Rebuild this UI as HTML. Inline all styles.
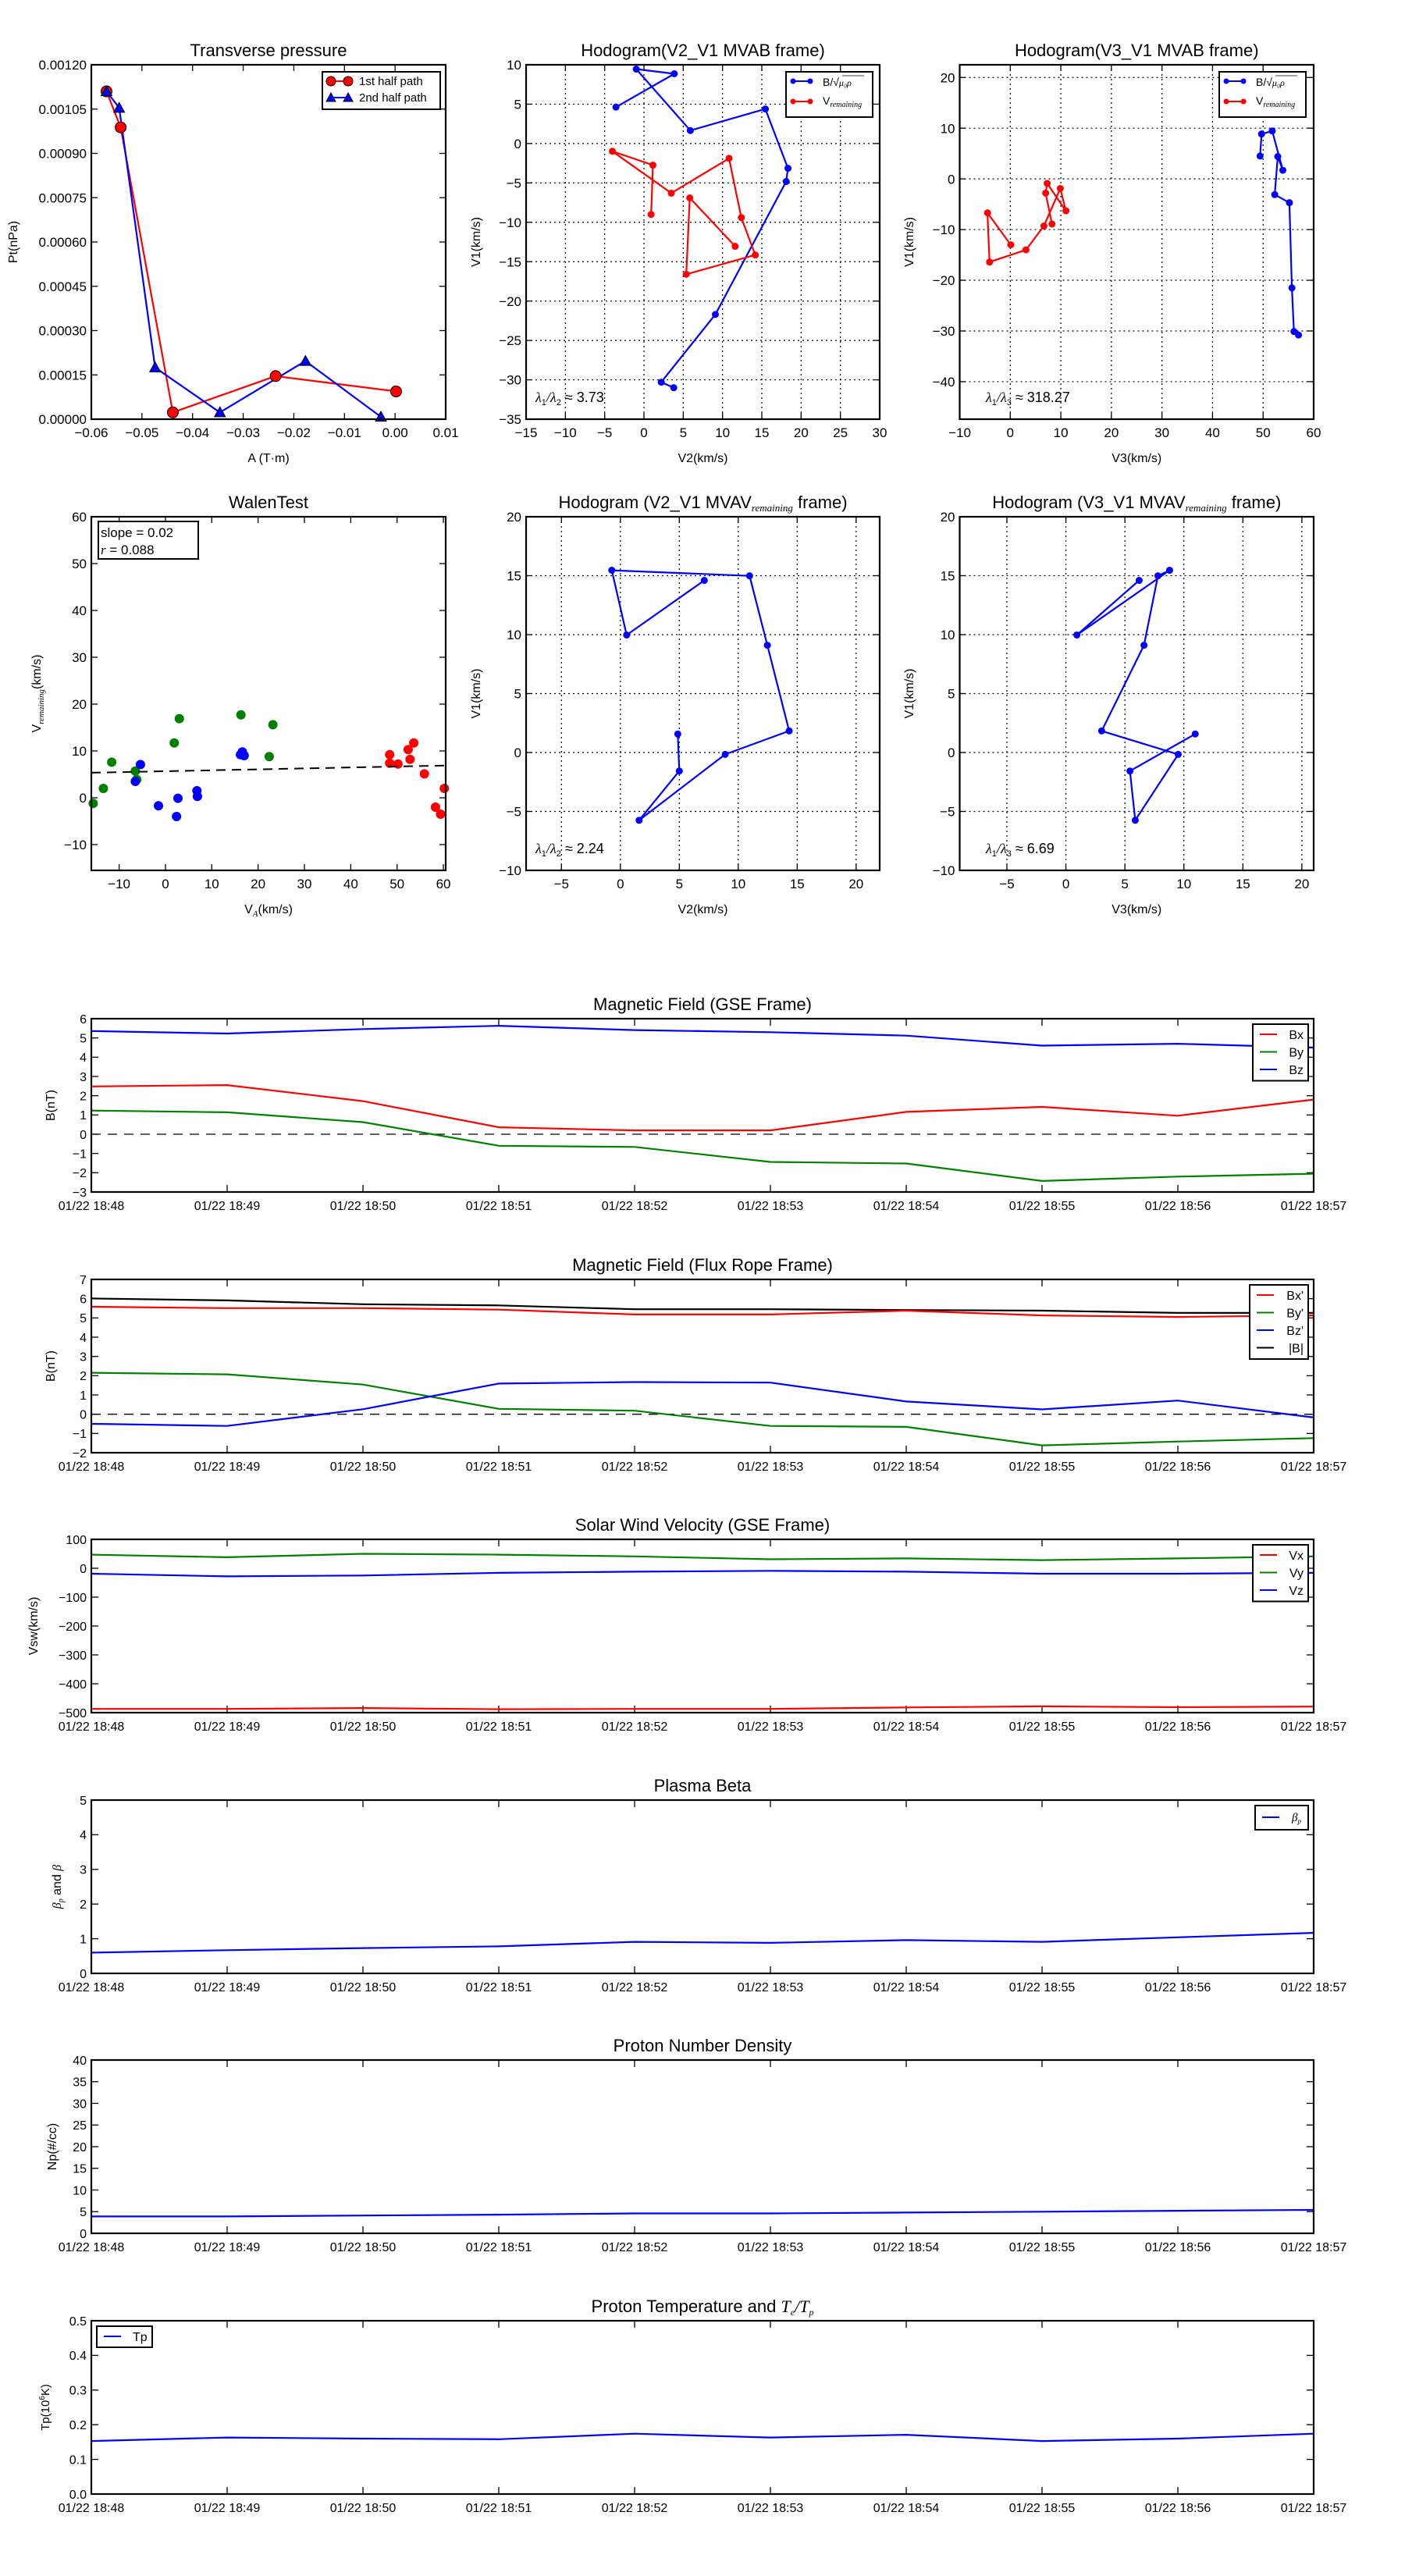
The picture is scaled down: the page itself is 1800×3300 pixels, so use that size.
<!DOCTYPE html>
<html>
<head>
<meta charset="utf-8">
<style>
html,body{margin:0;padding:0;background:#fff;}
svg{display:block;font-family:"Liberation Sans",sans-serif;}
</style>
</head>
<body>
<svg id="fig" xmlns="http://www.w3.org/2000/svg" width="1800" height="3300" viewBox="0 0 1800 3300">
<rect x="0" y="0" width="1800" height="3300" fill="#fff"/>
</svg>
<script>
// ---------- data ----------
// Transverse pressure
const tp1A = [-0.057, -0.0542, -0.0439, -0.0236, 0.0002];
const tp1P = [0.00111, 0.000988, 0.000023, 0.000146, 0.000094];
const tp2A = [-0.057, -0.0545, -0.0474, -0.0346, -0.0177, -0.0028];
const tp2P = [0.00111, 0.001054, 0.000175, 0.000023, 0.000197, 0.000008];
// Hodogram V2_V1 MVAB
const h1BlueV2 = [-3.56, 3.86, -0.98, 5.9, 15.45, 18.33, 18.1, 9.09, 2.2, 3.79];
const h1BlueV1 = [4.63, 8.86, 9.45, 1.65, 4.39, -3.14, -4.82, -21.7, -30.3, -31.0];
const h1RedV2 = [0.91, 1.14, -4.02, 3.48, 10.83, 12.39, 14.17, 5.38, 5.83, 11.6];
const h1RedV1 = [-9.0, -2.74, -0.98, -6.3, -1.88, -9.4, -14.15, -16.6, -6.9, -13.05];
// Hodogram V3_V1 MVAB
const h2BlueV3 = [49.4, 49.7, 51.8, 53.9, 52.9, 52.3, 55.2, 55.7, 56.1, 57.0];
const h2BlueV1 = [4.5, 8.85, 9.45, 1.7, 4.4, -3.1, -4.7, -21.5, -30.1, -30.8];
const h2RedV3 = [8.25, 7.0, 7.3, 11.0, 9.9, 6.66, 3.1, -4.1, -4.5, 0.1];
const h2RedV1 = [-8.9, -2.8, -0.9, -6.3, -1.9, -9.3, -14.0, -16.4, -6.7, -13.0];
// Walen test
const wGreenX = [-15.6, -13.4, -11.6, -6.5, -6.2, 1.9, 3.0, 16.3, 22.4, 23.2];
const wGreenY = [-1.2, 2.0, 7.6, 5.7, 3.9, 11.7, 16.9, 17.7, 8.8, 15.6];
const wBlueX = [-6.5, -5.4, -1.5, 2.4, 2.7, 6.8, 6.9, 16.2, 16.6, 17.0];
const wBlueY = [3.5, 7.1, -1.7, -4.0, -0.1, 1.5, 0.3, 9.2, 9.8, 9.0];
const wRedX = [48.4, 48.4, 50.2, 52.4, 52.8, 53.6, 55.9, 58.3, 59.4, 60.2];
const wRedY = [9.2, 7.4, 7.2, 10.3, 8.2, 11.7, 5.1, -2.0, -3.5, 2.0];
const wSlope = 0.02;
const wIntercept = 5.67;
// Hodograms MVAV
const h3V2 = [7.12, 0.53, -0.73, 10.96, 12.47, 14.32, 8.89, 1.59, 5.0, 4.87];
const h3V1 = [14.6, 9.97, 15.46, 14.99, 9.1, 1.83, -0.16, -5.75, -1.57, 1.57];
const h4V3 = [6.21, 0.93, 8.79, 7.8, 6.62, 3.03, 9.52, 5.88, 5.43, 10.96];
const h4V1 = [14.6, 9.97, 15.46, 14.99, 9.1, 1.83, -0.16, -5.75, -1.57, 1.57];
// Time series
const timeLabels = ["01/22 18:48","01/22 18:49","01/22 18:50","01/22 18:51","01/22 18:52","01/22 18:53","01/22 18:54","01/22 18:55","01/22 18:56","01/22 18:57"];
const gseBx = [2.48, 2.55, 1.72, 0.36, 0.2, 0.2, 1.16, 1.42, 0.96, 1.8];
const gseBy = [1.23, 1.14, 0.63, -0.6, -0.66, -1.44, -1.52, -2.43, -2.2, -2.05];
const gseBz = [5.36, 5.23, 5.46, 5.63, 5.41, 5.3, 5.12, 4.6, 4.7, 4.5];
const frBx = [5.58, 5.51, 5.51, 5.43, 5.18, 5.18, 5.38, 5.13, 5.05, 5.13];
const frBy = [2.15, 2.07, 1.54, 0.28, 0.18, -0.61, -0.66, -1.62, -1.42, -1.24];
const frBz = [-0.5, -0.61, 0.26, 1.59, 1.67, 1.64, 0.66, 0.25, 0.71, -0.17];
const frBt = [6.01, 5.91, 5.71, 5.65, 5.45, 5.45, 5.41, 5.38, 5.26, 5.26];
const swVx = [-487, -487, -484, -488, -487, -487, -482, -478, -481, -479];
const swVy = [47, 38, 50, 47, 41, 31, 34, 28, 34, 41];
const swVz = [-19, -28, -25, -16, -12, -9, -12, -19, -19, -16];
const betaP = [0.6, 0.67, 0.73, 0.78, 0.91, 0.88, 0.96, 0.91, 1.04, 1.17];
const densNp = [3.9, 3.9, 4.1, 4.3, 4.6, 4.6, 4.8, 5.0, 5.2, 5.4];
const tempTp = [0.153, 0.163, 0.16, 0.158, 0.174, 0.163, 0.171, 0.153, 0.16, 0.174];

// ---------- helpers ----------
const NS = "http://www.w3.org/2000/svg";
const fig = document.getElementById("fig");
function mk(tag, attrs, parent) {
  const e = document.createElementNS(NS, tag);
  for (const k in attrs) e.setAttribute(k, attrs[k]);
  (parent || fig).appendChild(e);
  return e;
}
function txt(parent, s, x, y, size, anchor, extra) {
  const t = mk("text", Object.assign({x: x, y: y, "font-size": size, "text-anchor": anchor || "start", fill: "#000"}, extra || {}), parent);
  t.textContent = s;
  return t;
}
function fmtNum(v, dec) {
  const s = Math.abs(v).toFixed(dec);
  return (v < -1e-12 ? "\u2212" : "") + s;
}
function makeAxes(name, box, xlim, ylim) {
  const g = mk("g", {});
  
  
  const ax = {
    g: g, box: box,
    x: v => box.l + (v - xlim[0]) / (xlim[1] - xlim[0]) * (box.r - box.l),
    y: v => box.b - (v - ylim[0]) / (ylim[1] - ylim[0]) * (box.b - box.t)
  };
  return ax;
}
function frame(ax) {
  const b = ax.box;
  const r = mk("rect", {x: b.l, y: b.t, width: b.r - b.l, height: b.b - b.t, fill: "none", stroke: "#000", "stroke-width": 2.2}, ax.g);
  
  
}
function xTicks(ax, vals, labels, size, grid, tl) {
  const b = ax.box; tl = tl || 8;
  const g = mk("g", {}, ax.g);
  
  
  vals.forEach((v, i) => {
    const X = ax.x(v);
    if (grid) mk("line", {x1: X, y1: b.t, x2: X, y2: b.b, stroke: "#000", "stroke-width": 1.2, "stroke-dasharray": "2,4"}, g);
    mk("line", {x1: X, y1: b.b, x2: X, y2: b.b - tl, stroke: "#000", "stroke-width": 1.3}, g);
    mk("line", {x1: X, y1: b.t, x2: X, y2: b.t + tl, stroke: "#000", "stroke-width": 1.3}, g);
    const t = txt(g, labels[i], X, b.b + 23, size, "middle");
    
    
  });
}
function yTicks(ax, vals, labels, size, grid, tl) {
  const b = ax.box; tl = tl || 8;
  const g = mk("g", {}, ax.g);
  
  
  vals.forEach((v, i) => {
    const Y = ax.y(v);
    if (grid) mk("line", {x1: b.l, y1: Y, x2: b.r, y2: Y, stroke: "#000", "stroke-width": 1.2, "stroke-dasharray": "2,4"}, g);
    mk("line", {x1: b.l, y1: Y, x2: b.l + tl, y2: Y, stroke: "#000", "stroke-width": 1.3}, g);
    mk("line", {x1: b.r, y1: Y, x2: b.r - tl, y2: Y, stroke: "#000", "stroke-width": 1.3}, g);
    const t = txt(g, labels[i], b.l - 6, Y + size * 0.36, size, "end");
    
    
  });
}
function series(ax, xs, ys, color, width, name, dash) {
  const pts = xs.map((v, i) => ax.x(v).toFixed(1) + "," + ax.y(ys[i]).toFixed(1)).join(" ");
  const a = {points: pts, fill: "none", stroke: color, "stroke-width": width, "stroke-linejoin": "round"};
  if (dash) a["stroke-dasharray"] = dash;
  const p = mk("polyline", a, ax.g);
  
  
  return p;
}
function dots(ax, xs, ys, color, r, name, stroke) {
  xs.forEach((v, i) => {
    const c = mk("circle", {cx: ax.x(v), cy: ax.y(ys[i]), r: r, fill: color, stroke: stroke || "none", "stroke-width": 1}, ax.g);
    
    
  });
}
function tris(ax, xs, ys, color, s, name) {
  xs.forEach((v, i) => {
    const X = ax.x(v), Y = ax.y(ys[i]);
    const p = mk("polygon", {points: `${X},${Y - s} ${X - s},${Y + s * 0.8} ${X + s},${Y + s * 0.8}`, fill: color, stroke: "#000", "stroke-width": 1}, ax.g);
    
    
  });
}
function title(ax, s, size) {
  const b = ax.box;
  const t = txt(ax.g, s, (b.l + b.r) / 2, b.t - 11, size || 22, "middle");
  
  
  return t;
}
function xLabel(ax, s, size) {
  const b = ax.box;
  const t = txt(ax.g, s, (b.l + b.r) / 2, b.b + 55, size || 16, "middle");
  
  
  return t;
}
function yLabel(ax, s, x, size) {
  const b = ax.box, cy = (b.t + b.b) / 2;
  const t = txt(ax.g, s, x, cy, size || 16, "middle", {transform: `rotate(-90 ${x} ${cy})`});
  
  
  return t;
}
function sub(t, s, size, dy, italic) {
  const ts = mk("tspan", {"font-size": size, dy: dy}, t);
  if (italic) { ts.setAttribute("font-style", "italic"); ts.setAttribute("font-family", "Liberation Serif, serif"); }
  ts.textContent = s;
  return ts;
}
function range(a, b, s) { const r = []; for (let v = a; v <= b + 1e-9; v += s) r.push(+v.toFixed(6)); return r; }

// ---------- Plot 1: transverse pressure ----------
(function () {
  const ax = makeAxes("transverse-pressure-chart", {l: 117, r: 571, t: 83, b: 537}, [-0.06, 0.01], [0, 0.0012]);
  const xv = range(-0.06, 0.01, 0.01), yv = range(0, 0.0012, 0.00015);
  xTicks(ax, xv, xv.map(v => fmtNum(v, 2)), 17);
  yTicks(ax, yv, yv.map(v => fmtNum(v, 5)), 17);
  series(ax, tp1A, tp1P, "#f00", 2.2, "first-half-path-line");
  series(ax, tp2A, tp2P, "#00f", 2.2, "second-half-path-line");
  dots(ax, tp1A, tp1P, "#f00", 7, "first-half-point", "#000");
  tris(ax, tp2A, tp2P, "#00f", 7, "second-half-point");
  frame(ax);
  title(ax, "Transverse pressure");
  xLabel(ax, "A (T\u00b7m)");
  yLabel(ax, "Pt(nPa)", 22);
  const lg = mk("g", {}, ax.g);
  
  
  mk("rect", {x: 413, y: 92, width: 151, height: 48, fill: "#fff", stroke: "#000", "stroke-width": 2}, lg);
  mk("line", {x1: 424, y1: 104, x2: 446, y2: 104, stroke: "#f00", "stroke-width": 2}, lg);
  mk("circle", {cx: 424, cy: 104, r: 6, fill: "#f00", stroke: "#000"}, lg);
  mk("circle", {cx: 446, cy: 104, r: 6, fill: "#f00", stroke: "#000"}, lg);
  mk("line", {x1: 424, y1: 125, x2: 446, y2: 125, stroke: "#00f", "stroke-width": 2}, lg);
  mk("polygon", {points: "424,119 418,130 430,130", fill: "#00f", stroke: "#000"}, lg);
  mk("polygon", {points: "446,119 440,130 452,130", fill: "#00f", stroke: "#000"}, lg);
  const e1 = txt(lg, "1st half path", 460, 109, 15);
  
  
  const e2 = txt(lg, "2nd half path", 460, 130, 15);
  
  
})();

function hodoLegend(ax, x, y, twoSeries) {
  const lg = mk("g", {}, ax.g);
  
  
  mk("rect", {x: x, y: y, width: 111, height: 58, fill: "#fff", stroke: "#000", "stroke-width": 2}, lg);
  mk("line", {x1: x + 9, y1: y + 12, x2: x + 31, y2: y + 12, stroke: "#00f", "stroke-width": 2}, lg);
  mk("circle", {cx: x + 9, cy: y + 12, r: 3.5, fill: "#00f"}, lg);
  mk("circle", {cx: x + 31, cy: y + 12, r: 3.5, fill: "#00f"}, lg);
  mk("line", {x1: x + 9, y1: y + 38, x2: x + 31, y2: y + 38, stroke: "#f00", "stroke-width": 2}, lg);
  mk("circle", {cx: x + 9, cy: y + 38, r: 3.5, fill: "#f00"}, lg);
  mk("circle", {cx: x + 31, cy: y + 38, r: 3.5, fill: "#f00"}, lg);
  const t1 = txt(lg, "B/\u221a", x + 47, y + 18, 14);
  sub(t1, "\u03bc\u2080\u03c1", 12, 0, true);
  mk("line", {x1: x + 72, y1: y + 5, x2: x + 100, y2: y + 5, stroke: "#000", "stroke-width": 0.8}, lg);
  
  
  const t2 = txt(lg, "V", x + 47, y + 42, 14);
  sub(t2, "remaining", 10, 3, true);
  
  
}
function lambdaText(ax, x, y, a, b, val) {
  const t = txt(ax.g, "", x, y, 18);
  sub(t, "\u03bb", 18, 0, true);
  sub(t, a, 11, 4, false);
  sub(t, "/", 18, -4, true);
  sub(t, "\u03bb", 18, 0, true);
  sub(t, b, 11, 4, false);
  sub(t, " \u2248 " + val, 18, -4, false);
  
  
}

// ---------- Plot 2: hodogram V2_V1 MVAB ----------
(function () {
  const ax = makeAxes("hodogram-v2-v1-mvab", {l: 674, r: 1127, t: 83, b: 537}, [-15, 30], [-35, 10]);
  const xv = range(-15, 30, 5), yv = range(-35, 10, 5);
  xTicks(ax, xv, xv.map(v => fmtNum(v, 0)), 17, true);
  yTicks(ax, yv, yv.map(v => fmtNum(v, 0)), 17, true);
  series(ax, h1BlueV2, h1BlueV1, "#00f", 2.2, "alfven-velocity-line");
  dots(ax, h1BlueV2, h1BlueV1, "#00f", 4.5, "alfven-velocity-point");
  series(ax, h1RedV2, h1RedV1, "#f00", 2.2, "remaining-velocity-line");
  dots(ax, h1RedV2, h1RedV1, "#f00", 4.5, "remaining-velocity-point");
  frame(ax);
  title(ax, "Hodogram(V2_V1 MVAB frame)");
  xLabel(ax, "V2(km/s)");
  yLabel(ax, "V1(km/s)", 615);
  hodoLegend(ax, 1007, 92);
  lambdaText(ax, 686, 515, "1", "2", "3.73");
})();

// ---------- Plot 3: hodogram V3_V1 MVAB ----------
(function () {
  const ax = makeAxes("hodogram-v3-v1-mvab", {l: 1229.5, r: 1683, t: 83, b: 537}, [-10, 60], [-47.4, 22.5]);
  const xv = range(-10, 60, 10), yv = range(-40, 20, 10);
  xTicks(ax, xv, xv.map(v => fmtNum(v, 0)), 17, true);
  yTicks(ax, yv, yv.map(v => fmtNum(v, 0)), 17, true);
  series(ax, h2BlueV3, h2BlueV1, "#00f", 2.2, "alfven-velocity-line");
  dots(ax, h2BlueV3, h2BlueV1, "#00f", 4.5, "alfven-velocity-point");
  series(ax, h2RedV3, h2RedV1, "#f00", 2.2, "remaining-velocity-line");
  dots(ax, h2RedV3, h2RedV1, "#f00", 4.5, "remaining-velocity-point");
  frame(ax);
  title(ax, "Hodogram(V3_V1 MVAB frame)");
  xLabel(ax, "V3(km/s)");
  yLabel(ax, "V1(km/s)", 1170);
  hodoLegend(ax, 1562, 92);
  lambdaText(ax, 1263, 515, "1", "3", "318.27");
})();

// ---------- Plot 4: Walen test ----------
(function () {
  const xl = [-16, 60.5];
  const ax = makeAxes("walen-test-chart", {l: 117, r: 571, t: 662, b: 1115}, xl, [-15.5, 60]);
  const xv = range(-10, 60, 10), yv = range(-10, 60, 10);
  xTicks(ax, xv, xv.map(v => fmtNum(v, 0)), 17);
  yTicks(ax, yv, yv.map(v => fmtNum(v, 0)), 17);
  dots(ax, wGreenX, wGreenY, "#008000", 6, "walen-point-green");
  dots(ax, wBlueX, wBlueY, "#00f", 6, "walen-point-blue");
  dots(ax, wRedX, wRedY, "#f00", 6, "walen-point-red");
  series(ax, xl, xl.map(v => wSlope * v + wIntercept), "#000", 2, "fit-line", "12,8");
  frame(ax);
  title(ax, "WalenTest");
  const xt = xLabel(ax, "V");
  sub(xt, "A", 11, 4, true);
  sub(xt, "(km/s)", 16, -4, false);
  const yt = yLabel(ax, "V", 52);
  sub(yt, "remaining", 11, 4, true);
  sub(yt, "(km/s)", 16, -4, false);
  const bx = mk("g", {}, ax.g);
  
  
  mk("rect", {x: 126, y: 668, width: 128, height: 48, fill: "#fff", stroke: "#000", "stroke-width": 2}, bx);
  txt(bx, "slope = " + wSlope.toFixed(2), 129, 688, 17);
  const rt = txt(bx, "", 129, 710, 17);
  sub(rt, "r", 17, 0, true);
  sub(rt, " = 0.088", 17, 0, false);
})();

// ---------- Plot 5/6: MVAV hodograms ----------
(function () {
  const ax = makeAxes("hodogram-v2-v1-mvav", {l: 674, r: 1127, t: 662, b: 1115}, [-8, 22], [-10, 20]);
  const xv = range(-5, 20, 5), yv = range(-10, 20, 5);
  xTicks(ax, xv, xv.map(v => fmtNum(v, 0)), 17, true);
  yTicks(ax, yv, yv.map(v => fmtNum(v, 0)), 17, true);
  series(ax, h3V2, h3V1, "#00f", 2.2, "velocity-line");
  dots(ax, h3V2, h3V1, "#00f", 4.5, "velocity-point");
  frame(ax);
  const t = title(ax, "Hodogram (V2_V1 MVAV");
  sub(t, "remaining", 13, 4, true);
  sub(t, " frame)", 22, -4, false);
  xLabel(ax, "V2(km/s)");
  yLabel(ax, "V1(km/s)", 615);
  lambdaText(ax, 686, 1093, "1", "2", "2.24");
})();
(function () {
  const ax = makeAxes("hodogram-v3-v1-mvav", {l: 1229.5, r: 1683, t: 662, b: 1115}, [-9, 21], [-10, 20]);
  const xv = range(-5, 20, 5), yv = range(-10, 20, 5);
  xTicks(ax, xv, xv.map(v => fmtNum(v, 0)), 17, true);
  yTicks(ax, yv, yv.map(v => fmtNum(v, 0)), 17, true);
  series(ax, h4V3, h4V1, "#00f", 2.2, "velocity-line");
  dots(ax, h4V3, h4V1, "#00f", 4.5, "velocity-point");
  frame(ax);
  const t = title(ax, "Hodogram (V3_V1 MVAV");
  sub(t, "remaining", 13, 4, true);
  sub(t, " frame)", 22, -4, false);
  xLabel(ax, "V3(km/s)");
  yLabel(ax, "V1(km/s)", 1170);
  lambdaText(ax, 1263, 1093, "1", "3", "6.69");
})();

// ---------- time series panels ----------
const tIdx = timeLabels.map((_, i) => i);
function timePanel(name, top, ylim, yv, ylabFmt, ttl, ylabX) {
  const ax = makeAxes(name, {l: 117, r: 1683, t: top, b: top + 222}, [0, 9], ylim);
  xTicks(ax, tIdx, timeLabels, 16, false, 9);
  yTicks(ax, yv, yv.map(ylabFmt), 16, false, 9);
  return ax;
}
function timeLegend(ax, x, y, w, entries) {
  const lg = mk("g", {}, ax.g);
  
  
  mk("rect", {x: x, y: y, width: w, height: entries.length * 22.5 + 5, fill: "#fff", stroke: "#000", "stroke-width": 2}, lg);
  entries.forEach((e, i) => {
    const yy = y + 13 + i * 22.5;
    mk("line", {x1: x + 9, y1: yy, x2: x + 31, y2: yy, stroke: e[1], "stroke-width": 2}, lg);
    const t = txt(lg, e[0], x + w - 6, yy + 6, 16, "end");
    
    
  });
  return lg;
}
function zeroLine(ax) {
  const l = mk("line", {x1: ax.box.l, y1: ax.y(0), x2: ax.box.r, y2: ax.y(0), stroke: "#000", "stroke-width": 1.3, "stroke-dasharray": "12,9"}, ax.g);
  
  
}

(function () {
  const ax = timePanel("magnetic-field-gse-chart", 1305, [-3, 6], range(-3, 6, 1), v => fmtNum(v, 0));
  zeroLine(ax);
  series(ax, tIdx, gseBx, "#f00", 2.2, "bx-line");
  series(ax, tIdx, gseBy, "#008000", 2.2, "by-line");
  series(ax, tIdx, gseBz, "#00f", 2.2, "bz-line");
  frame(ax);
  title(ax, "Magnetic Field (GSE Frame)");
  yLabel(ax, "B(nT)", 70);
  timeLegend(ax, 1605, 1312, 71, [["Bx", "#f00"], ["By", "#008000"], ["Bz", "#00f"]]);
})();
(function () {
  const ax = timePanel("magnetic-field-flux-rope-chart", 1639, [-2, 7], range(-2, 7, 1), v => fmtNum(v, 0));
  zeroLine(ax);
  series(ax, tIdx, frBt, "#000", 2.2, "b-magnitude-line");
  series(ax, tIdx, frBx, "#f00", 2.2, "bx-prime-line");
  series(ax, tIdx, frBy, "#008000", 2.2, "by-prime-line");
  series(ax, tIdx, frBz, "#00f", 2.2, "bz-prime-line");
  frame(ax);
  title(ax, "Magnetic Field (Flux Rope Frame)");
  yLabel(ax, "B(nT)", 70);
  timeLegend(ax, 1601, 1646, 75, [["Bx'", "#f00"], ["By'", "#008000"], ["Bz'", "#00f"], ["|B|", "#000"]]);
})();
(function () {
  const ax = timePanel("solar-wind-velocity-chart", 1972, [-500, 100], range(-500, 100, 100), v => fmtNum(v, 0));
  series(ax, tIdx, swVx, "#f00", 2.2, "vx-line");
  series(ax, tIdx, swVy, "#008000", 2.2, "vy-line");
  series(ax, tIdx, swVz, "#00f", 2.2, "vz-line");
  frame(ax);
  title(ax, "Solar Wind Velocity (GSE Frame)");
  yLabel(ax, "Vsw(km/s)", 48);
  timeLegend(ax, 1605, 1979, 71, [["Vx", "#f00"], ["Vy", "#008000"], ["Vz", "#00f"]]);
})();
(function () {
  const ax = timePanel("plasma-beta-chart", 2306, [0, 5], range(0, 5, 1), v => fmtNum(v, 0));
  series(ax, tIdx, betaP, "#00f", 2.2, "beta-p-line");
  frame(ax);
  title(ax, "Plasma Beta");
  const yt = yLabel(ax, "", 78);
  sub(yt, "\u03b2", 16, 0, true);
  sub(yt, "p", 10, 3, true);
  sub(yt, " and ", 16, -3, false);
  sub(yt, "\u03b2", 16, 0, true);
  const lg = mk("g", {}, ax.g);
  
  
  mk("rect", {x: 1608, y: 2313, width: 68, height: 31, fill: "#fff", stroke: "#000", "stroke-width": 2}, lg);
  mk("line", {x1: 1617, y1: 2328, x2: 1639, y2: 2328, stroke: "#00f", "stroke-width": 2}, lg);
  const t = txt(lg, "", 1655, 2333, 16);
  sub(t, "\u03b2", 15, 0, true);
  sub(t, "p", 9, 3, true);
  
  
})();
(function () {
  const ax = timePanel("proton-density-chart", 2639, [0, 40], range(0, 40, 5), v => fmtNum(v, 0));
  series(ax, tIdx, densNp, "#00f", 2.2, "np-line");
  frame(ax);
  title(ax, "Proton Number Density");
  yLabel(ax, "Np(#/cc)", 72);
})();
(function () {
  const ax = timePanel("proton-temperature-chart", 2973, [0, 0.5], range(0, 0.5, 0.1), v => fmtNum(v, 1));
  series(ax, tIdx, tempTp, "#00f", 2.2, "tp-line");
  frame(ax);
  const t = title(ax, "Proton Temperature and ");
  sub(t, "T", 22, 0, true);
  sub(t, "e", 12, 4, true);
  sub(t, "/", 22, -4, true);
  sub(t, "T", 22, 0, true);
  sub(t, "p", 12, 4, true);
  const yt = yLabel(ax, "Tp(10", 63, 15);
  sub(yt, "6", 10, -6, false);
  sub(yt, "K)", 15, 6, false);
  const lg = mk("g", {}, ax.g);
  
  
  mk("rect", {x: 124, y: 2980, width: 71, height: 27, fill: "#fff", stroke: "#000", "stroke-width": 2}, lg);
  mk("line", {x1: 133, y1: 2993, x2: 155, y2: 2993, stroke: "#00f", "stroke-width": 2}, lg);
  const lt = txt(lg, "Tp", 170, 2999, 16);
  
  
})();
</script>
</body>
</html>
